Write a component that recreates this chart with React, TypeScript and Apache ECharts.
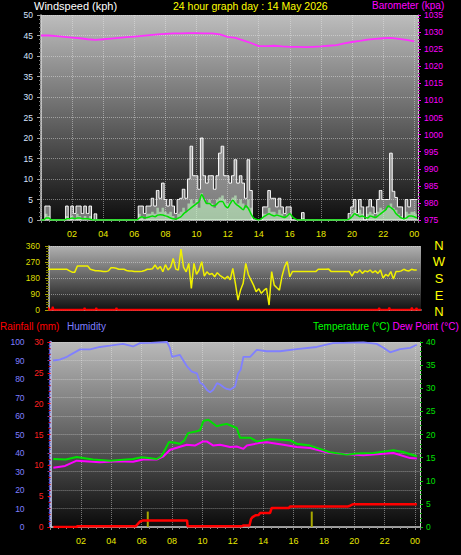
import React, { useEffect, useRef } from 'react';
import * as echarts from 'echarts';

// ---------- DATA ----------
// wind & direction: 10-minute samples starting at 00:00 (hours = index / 6)
const SAMPLES_PER_HOUR = 6;
const gustKph = [
  0, 0, 3.4, 3.4, 0, 0,
  0, 0, 0, 0, 3.4, 0,
  3.4, 1.6, 3.4, 3.4, 1.6, 3.4,
  1.6, 3.4, 0, 1.5, 0, 0,
  0, 0, 0, 0, 0, 0,
  0, 0, 0, 0, 0, 0,
  0, 0, 3.4, 3.4, 1.6, 3.4,
  3.4, 5.3, 3.4, 7.2, 5.3, 9,
  5, 3.4, 5, 3.4, 1.6, 5,
  5.3, 7.5, 5.3, 10, 18, 10.8,
  10.8, 7.5, 20, 10.8, 9, 10.8,
  10.8, 7.5, 10.8, 16.3, 18, 10.8,
  10.8, 9, 10.8, 14.7, 9, 10.8,
  9, 5.3, 14.7, 7.2, 0, 0,
  0, 0, 3.2, 3.2, 7.2, 5.3,
  5.3, 3.2, 5.3, 3.2, 1.6, 3.2,
  3.2, 0, 0, 0, 0, 1.8,
  0, 0, 0, 0, 0, 0,
  0, 0, 0, 0, 0, 0,
  0, 0, 0, 0, 0, 1.6,
  3.2, 5, 1.6, 5, 3.2, 0,
  3.2, 5, 3.2, 1.6, 5, 7.2,
  5, 5, 5, 16.3, 7, 5.5,
  3.2, 3.2, 0, 5, 3.2, 5,
  5, 5,
];
const speedKph = [
  0, 0, 1.5, 1, 0, 0,
  0, 0, 0, 0, 1, 0,
  1, 0, 1.5, 1, 0, 1,
  0, 1, 0, 0, 0, 0,
  0, 0, 0, 0, 0, 0,
  0, 0, 0, 0, 0, 0,
  0, 0, 1.5, 1, 0, 1.5,
  1.5, 2, 1.5, 3, 2, 3,
  2, 1.5, 2, 1, 0, 1.5,
  2, 3, 2, 4, 5, 4,
  5, 3, 6.5, 5, 4, 5,
  4, 3, 5, 5.5, 6, 5,
  4, 4.5, 5.5, 6, 4, 5,
  4, 3, 5, 3, 0, 0,
  0, 0, 1.5, 1.5, 3, 2,
  2, 1.5, 2.5, 1.5, 0.5, 1.5,
  1.5, 0, 0, 0, 0, 0.5,
  0, 0, 0, 0, 0, 0,
  0, 0, 0, 0, 0, 0,
  0, 0, 0, 0, 0, 0.5,
  1.5, 2.5, 1, 2.5, 1.5, 0,
  1.5, 2, 1.5, 0.5, 2, 3,
  2.5, 2.5, 3, 4, 3, 2.5,
  1.5, 1, 0, 2, 1.5, 2,
  2, 1.5,
];
const avgKph = [
  0, 0, 0.5, 0.5, 0, 0,
  0, 0, 0, 0, 0.3, 0.3,
  0.5, 0.3, 0.5, 0.5, 0.3, 0.3,
  0.3, 0.2, 0, 0, 0, 0,
  0, 0, 0, 0, 0, 0,
  0, 0, 0, 0, 0, 0,
  0, 0, 0.5, 0.8, 0.5, 0.6,
  0.8, 1, 0.8, 1.2, 1.3, 1.2,
  1, 0.8, 0.5, 0.3, 0.2, 0.5,
  0.8, 1.5, 2, 2.5, 3, 3.5,
  4, 4.5, 6.2, 5, 4, 4,
  3.5, 3.5, 4, 4.5, 4.5, 3.5,
  3, 4, 4.8, 4, 3.5, 3,
  2.5, 3.5, 2.8, 1.5, 0.5, 0.2,
  0, 0.3, 0.8, 1.2, 1.5, 1.2,
  1, 1.2, 1, 0.8, 0.6, 1,
  1.5, 0.8, 0.3, 0, 0, 0,
  0, 0, 0, 0, 0, 0,
  0, 0, 0, 0, 0, 0,
  0, 0, 0, 0, 0, 0.3,
  0.8, 1.5, 1.2, 0.8, 1, 0.6,
  0.5, 1, 0.8, 0.6, 1, 1.5,
  2, 2.5, 3.4, 3, 2.5, 1.5,
  1, 0.5, 0.3, 0.5, 1, 1,
  0.8, 0.5,
];
const windDirDeg = [
  210, 206, 229, 229, 229, 229,
  229, 229, 229, 229, 229, 220,
  213, 213, 247, 247, 247, 247,
  247, 229, 225, 221, 221, 219,
  216, 216, 220, 238, 238, 235,
  229, 229, 229, 222, 219, 219,
  216, 216, 216, 218, 222, 229,
  229, 232, 253, 230, 245, 215,
  255, 225, 240, 290, 230, 225,
  343, 240, 215, 262, 122, 262,
  200, 225, 272, 190, 215, 200,
  205, 187, 210, 195, 185, 175,
  190, 170, 234, 150, 56, 112,
  150, 262, 200, 169, 140, 103,
  120, 94, 110, 122, 28, 216,
  140, 125, 112, 190, 244, 272,
  187, 216, 216, 216, 216, 216,
  216, 216, 216, 216, 216, 229,
  229, 229, 229, 230, 216, 216,
  216, 216, 216, 216, 216, 216,
  191, 216, 210, 225, 206, 220,
  215, 225, 210, 220, 206, 225,
  180, 200, 190, 216, 175, 216,
  216, 220, 229, 222, 220, 229,
  225, 225,
];
const redDirTrace = [
  [0, 2], [0.4, 2], [0.45, 14], [0.5, 2], [0.7, 2], [0.75, 18], [0.8, 2],
  [2.75, 2], [2.8, 12], [2.85, 2], [3.5, 2], [3.55, 12], [3.6, 2],
  [4.8, 2], [4.85, 12], [4.9, 2], [21.7, 2], [21.75, 12], [21.8, 2],
  [22.35, 2], [22.4, 14], [22.45, 2], [23.8, 2], [23.85, 14], [23.9, 2],
  [24.1, 2], [24.15, 12], [24.2, 2], [24.44, 2],
];
// barometer: half-hourly from 00:00
const BARO_STEP_H = 0.5;
const baroHpa = [
  1029.0, 1029.0, 1028.8, 1028.6, 1028.4, 1028.2, 1027.9, 1027.7, 1027.9, 1028.1,
  1028.3, 1028.5, 1028.7, 1028.9, 1029.1, 1029.3, 1029.5, 1029.6, 1029.6, 1029.7,
  1029.7, 1029.6, 1029.6, 1029.3, 1028.6, 1028.3, 1027.6, 1026.8, 1025.9, 1025.9,
  1026.0, 1025.8, 1025.7, 1025.7, 1025.6, 1025.7, 1025.8, 1026.0, 1026.2, 1026.7,
  1027.1, 1027.4, 1027.8, 1028.0, 1028.2, 1028.3, 1028.0, 1027.7, 1027.3,
];
// bottom panel: [hour, value]
const humidityPct = [
  [0.16, 90], [0.6, 90.5], [1.08, 92], [1.5, 94], [1.94, 96], [2.6, 96], [3.25, 97.3],
  [3.91, 98], [4.77, 99], [5.43, 97.6], [5.89, 99.4], [6.6, 99.5], [7.67, 100], [7.85, 97],
  [8.0, 92], [8.52, 93], [8.99, 86.8], [9.3, 84], [9.64, 83], [9.84, 78], [10.04, 77],
  [10.3, 74], [10.5, 72.8], [10.7, 74], [10.96, 77.8], [11.16, 77], [11.4, 75.5], [11.6, 74.6],
  [11.82, 74.2], [12.15, 76], [12.35, 83], [12.52, 85], [12.7, 92], [13.14, 92], [13.58, 95.8],
  [14.24, 95], [15.11, 95], [16.21, 96.2], [17.53, 97.3], [18.6, 99.4], [20.6, 99.8],
  [21.48, 99], [21.9, 97], [22.36, 94.4], [23.02, 96.2], [23.68, 96.8], [24.12, 98.5],
];
const temperatureC = [
  [0.18, 14.7], [1.0, 14.6], [1.72, 15.15], [2.79, 14.6], [3.91, 14.35], [5.43, 14.7],
  [6.0, 15.1], [6.99, 14.7], [7.3, 15.3], [7.55, 16.8], [7.8, 18.4], [8.2, 18.2], [8.52, 18],
  [8.8, 18.7], [9.05, 20.3], [9.62, 20.7], [9.84, 20.9], [10.06, 22.9], [10.39, 23.2],
  [10.94, 21.8], [11.3, 22.1], [11.6, 22.3], [11.82, 22], [12.26, 21.4], [12.48, 19.3],
  [13.14, 19.3], [13.58, 18.5], [14.45, 19.0], [15.77, 18.75], [16.21, 18], [17.09, 17.6],
  [18.4, 16.15], [19.5, 15.65], [20.16, 15.9], [21.26, 16], [22.58, 16.6], [23.23, 16.2],
  [24.12, 15.3],
];
const dewPointC = [
  [0.18, 12.8], [0.95, 13.2], [1.72, 14.35], [3.25, 14], [4.35, 14.2], [5.43, 14.1],
  [6.1, 14.6], [6.99, 14.6], [7.4, 15.2], [7.87, 16.7], [8.97, 17.8], [9.5, 17.6],
  [10.06, 18.5], [10.28, 18.5], [10.72, 17.6], [11.16, 17.8], [11.82, 17.3], [12.26, 17.4],
  [12.7, 16.9], [12.92, 17.6], [13.8, 18.2], [14.24, 18.3], [15.33, 17.8], [16.21, 17.3],
  [17.09, 17.1], [18.4, 16], [20.6, 15.5], [22.58, 16], [23.68, 14.9], [24.12, 14.8],
];
const rainfallMm = [
  [0.18, 0], [1.72, 0], [1.75, 0.12], [5.6, 0.12], [5.75, 0.5], [5.9, 0.9], [6.1, 1.07],
  [8.99, 1.07], [9.02, 0.12], [12.6, 0.12], [12.7, 0.25], [13.1, 0.25], [13.2, 1.3],
  [13.3, 1.6], [13.5, 1.9], [13.7, 1.95], [13.8, 2.27], [14.45, 2.27], [14.56, 3.08],
  [15.7, 3.08], [15.77, 3.34], [19.6, 3.34], [19.72, 3.45], [19.94, 3.7], [24.12, 3.7],
];
const rainRateMm = [[6.4, 2.5], [17.2, 2.5]];

const hourLabel = (v: number) => {
  const r = Math.round(v);
  if (Math.abs(v - r) > 1e-6 || r <= 0 || r % 2 !== 0) return '';
  return String(r % 24).padStart(2, '0');
};
const plainNum = (v: number) => String(v);

const FONT = '"Liberation Sans", Arial, sans-serif';

const grad = (top: string, bottom: string) => ({
  type: 'linear', x: 0, y: 0, x2: 0, y2: 1,
  colorStops: [{ offset: 0, color: top }, { offset: 1, color: bottom }],
});

const series10 = (arr: number[]) => arr.map((v, i) => [i / SAMPLES_PER_HOUR, v]);

export default function App() {
  const ref = useRef<HTMLDivElement>(null);
  useEffect(() => {
    if (!ref.current) return;
    const chart = echarts.init(ref.current, undefined, { renderer: 'svg' });
    const gridLine = { show: true, lineStyle: { color: 'rgba(235,235,235,0.45)', type: 'dotted', width: 1 } };
    const timeAxis = (gridIndex: number, min: number, max: number) => ({
      type: 'value', gridIndex, min, max, interval: 2,
      axisLine: { show: true, onZero: false, lineStyle: { color: '#c8c8c8', width: 1.5 } },
      axisTick: { show: true, length: 3, lineStyle: { color: '#8a8a8a' } },
      minorTick: { show: true, splitNumber: 4, length: 2, lineStyle: { color: '#8a8a8a' } },
      axisLabel: { color: '#e8e800', fontSize: 9, margin: 9, formatter: hourLabel, fontFamily: FONT },
      splitLine: gridLine,
    });
    const option: any = {
      animation: false,
      backgroundColor: '#000',
      grid: [
        { left: 41, top: 15, width: 377, height: 205, show: true, borderWidth: 0, backgroundColor: grad('#bdbdbd', '#0e0e0e') },
        { left: 49, top: 246, width: 372, height: 64, show: true, borderWidth: 0, backgroundColor: grad('#b0b0b0', '#121212') },
        { left: 50.6, top: 342, width: 369.4, height: 185, show: true, borderWidth: 0, backgroundColor: grad('#bababa', '#0a0a0a') },
      ],
      xAxis: [
        timeAxis(0, 0, 24.24),
        {
          type: 'value', gridIndex: 1, min: 0.51, max: 24.44,
          axisLine: { show: true, onZero: false, lineStyle: { color: '#c8c8c8', width: 1.5 } },
          axisTick: { show: false }, axisLabel: { show: false }, splitLine: { show: false },
        },
        timeAxis(2, 0, 24.33),
      ],
      yAxis: [
        {
          type: 'value', gridIndex: 0, position: 'left', min: 0, max: 50, interval: 5,
          axisLine: { show: true, lineStyle: { color: '#d0d0d0', width: 1.5 } },
          axisTick: { show: true, length: 4, lineStyle: { color: '#a0a0a0' } },
          minorTick: { show: true, splitNumber: 5, length: 2, lineStyle: { color: '#808080' } },
          axisLabel: { color: '#d8e4ff', fontSize: 8.5, margin: 8, fontFamily: FONT, formatter: plainNum },
          splitLine: gridLine,
        },
        {
          type: 'value', gridIndex: 0, position: 'right', min: 975, max: 1035, interval: 5,
          axisLine: { show: true, lineStyle: { color: '#d0d0d0', width: 1 } },
          axisTick: { show: true, length: 3, lineStyle: { color: '#ff00ff' } },
          minorTick: { show: true, splitNumber: 5, length: 2, lineStyle: { color: '#b000b0' } },
          axisLabel: { color: '#ff00ff', fontSize: 8.5, margin: 6, fontFamily: FONT, formatter: plainNum },
          splitLine: { show: false },
        },
        {
          type: 'value', gridIndex: 1, position: 'left', min: 0, max: 360, interval: 90,
          axisLine: { show: true, lineStyle: { color: '#c8c8c8', width: 1.5 } },
          axisTick: { show: true, length: 4, lineStyle: { color: '#a0a000' } },
          minorTick: { show: true, splitNumber: 6, length: 3, lineStyle: { color: '#808000' } },
          axisLabel: { color: '#dede00', fontSize: 8.5, margin: 9, fontFamily: FONT, formatter: plainNum },
          splitLine: gridLine,
        },
        {
          type: 'value', gridIndex: 2, position: 'left', offset: 20, min: 0, max: 100, interval: 10,
          axisLine: { show: true, lineStyle: { color: '#6f6fff', width: 2.5 } },
          axisTick: { show: true, length: 3, lineStyle: { color: '#6f6fff' } },
          minorTick: { show: true, splitNumber: 5, length: 2, lineStyle: { color: '#5050d0' } },
          axisLabel: { color: '#7f7fff', fontSize: 8.5, margin: 6, fontFamily: FONT, formatter: plainNum },
          splitLine: gridLine,
        },
        {
          type: 'value', gridIndex: 2, position: 'left', min: 0, max: 30, interval: 5,
          axisLine: { show: true, lineStyle: { color: '#c8c8c8', width: 1.5 } },
          axisTick: { show: true, length: 3, lineStyle: { color: '#ff0000' } },
          minorTick: { show: true, splitNumber: 5, length: 2, lineStyle: { color: '#c00000' } },
          axisLabel: { color: '#ff2020', fontSize: 8.5, margin: 7, fontFamily: FONT, formatter: plainNum },
          splitLine: { show: false },
        },
        {
          type: 'value', gridIndex: 2, position: 'right', min: 0, max: 40, interval: 5,
          axisLine: { show: true, lineStyle: { color: '#d0d0d0', width: 1 } },
          axisTick: { show: true, length: 3, lineStyle: { color: '#00d000' } },
          minorTick: { show: true, splitNumber: 5, length: 2, lineStyle: { color: '#00a000' } },
          axisLabel: { color: '#00e000', fontSize: 8.5, margin: 6, fontFamily: FONT, formatter: plainNum },
          splitLine: { show: false },
        },
      ],
      series: [
        {
          type: 'line', xAxisIndex: 0, yAxisIndex: 0, data: series10(gustKph), step: 'middle',
          symbol: 'none', lineStyle: { color: '#ffffff', width: 1 }, areaStyle: { color: 'rgba(240,240,240,0.68)' },
        },
        {
          type: 'line', xAxisIndex: 0, yAxisIndex: 0, data: series10(speedKph), step: 'middle',
          symbol: 'none', lineStyle: { width: 0, color: '#c8ffc8' }, areaStyle: { color: 'rgba(200,255,200,0.8)' },
        },
        {
          type: 'line', xAxisIndex: 0, yAxisIndex: 0, data: series10(avgKph), smooth: 0.3,
          symbol: 'none', lineStyle: { color: '#00e000', width: 1.5 },
        },
        {
          type: 'line', xAxisIndex: 0, yAxisIndex: 1, data: baroHpa.map((v, i) => [i * BARO_STEP_H, v]),
          symbol: 'none', lineStyle: { color: '#ff30ff', width: 1.8 },
        },
        {
          type: 'line', xAxisIndex: 1, yAxisIndex: 2, data: redDirTrace,
          symbol: 'none', lineStyle: { color: '#ff0000', width: 2 },
        },
        {
          type: 'line', xAxisIndex: 1, yAxisIndex: 2, data: series10(windDirDeg),
          symbol: 'none', lineStyle: { color: '#f0f000', width: 1.5 },
        },
        {
          type: 'bar', xAxisIndex: 2, yAxisIndex: 4, data: rainRateMm, barWidth: 2,
          itemStyle: { color: '#a8a800' },
        },
        {
          type: 'line', xAxisIndex: 2, yAxisIndex: 4, data: rainfallMm,
          symbol: 'none', lineStyle: { color: '#ff0000', width: 2.5 },
        },
        {
          type: 'line', xAxisIndex: 2, yAxisIndex: 5, data: dewPointC,
          symbol: 'none', lineStyle: { color: '#ff00ff', width: 2 },
        },
        {
          type: 'line', xAxisIndex: 2, yAxisIndex: 5, data: temperatureC,
          symbol: 'none', lineStyle: { color: '#00e000', width: 2 },
        },
        {
          type: 'line', xAxisIndex: 2, yAxisIndex: 3, data: humidityPct,
          symbol: 'none', lineStyle: { color: '#8080ff', width: 1.8 },
        },
      ],
      graphic: [
        { type: 'text', x: 34, y: 5.5, style: { text: 'Windspeed (kph)', fill: '#ffffff', font: `11px ${FONT}`, verticalAlign: 'middle' } },
        { type: 'text', x: 173, y: 5.5, style: { text: '24 hour graph day : 14 May 2026', fill: '#ffff00', font: `10.5px ${FONT}`, verticalAlign: 'middle' } },
        { type: 'text', x: 372, y: 5.5, style: { text: 'Barometer (kpa)', fill: '#ff00ff', font: `10px ${FONT}`, verticalAlign: 'middle' } },
        { type: 'text', x: 0, y: 326.5, style: { text: 'Rainfall (mm)', fill: '#ff0000', font: `10px ${FONT}`, verticalAlign: 'middle' } },
        { type: 'text', x: 67, y: 326.5, style: { text: 'Humidity', fill: '#7f7fff', font: `10px ${FONT}`, verticalAlign: 'middle' } },
        { type: 'text', x: 313, y: 326.5, style: { text: 'Temperature (°C)', fill: '#00ff00', font: `10px ${FONT}`, verticalAlign: 'middle' } },
        { type: 'text', x: 392.5, y: 326.5, style: { text: 'Dew Point (°C)', fill: '#ff00ff', font: `10px ${FONT}`, verticalAlign: 'middle' } },
        ...['N', 'W', 'S', 'E', 'N'].map((t, i) => ({
          type: 'text', x: 439, y: [245, 261.5, 278.5, 295, 311][i],
          style: { text: t, fill: '#ffff00', font: `13px ${FONT}`, align: 'center', verticalAlign: 'middle' },
        })),
      ],
    };
    chart.setOption(option);
    return () => chart.dispose();
  }, []);
  return (
    <div
      ref={ref}
      style={{ position: 'absolute', left: 0, top: 0, width: 461, height: 555, background: '#000' }}
    />
  );
}
